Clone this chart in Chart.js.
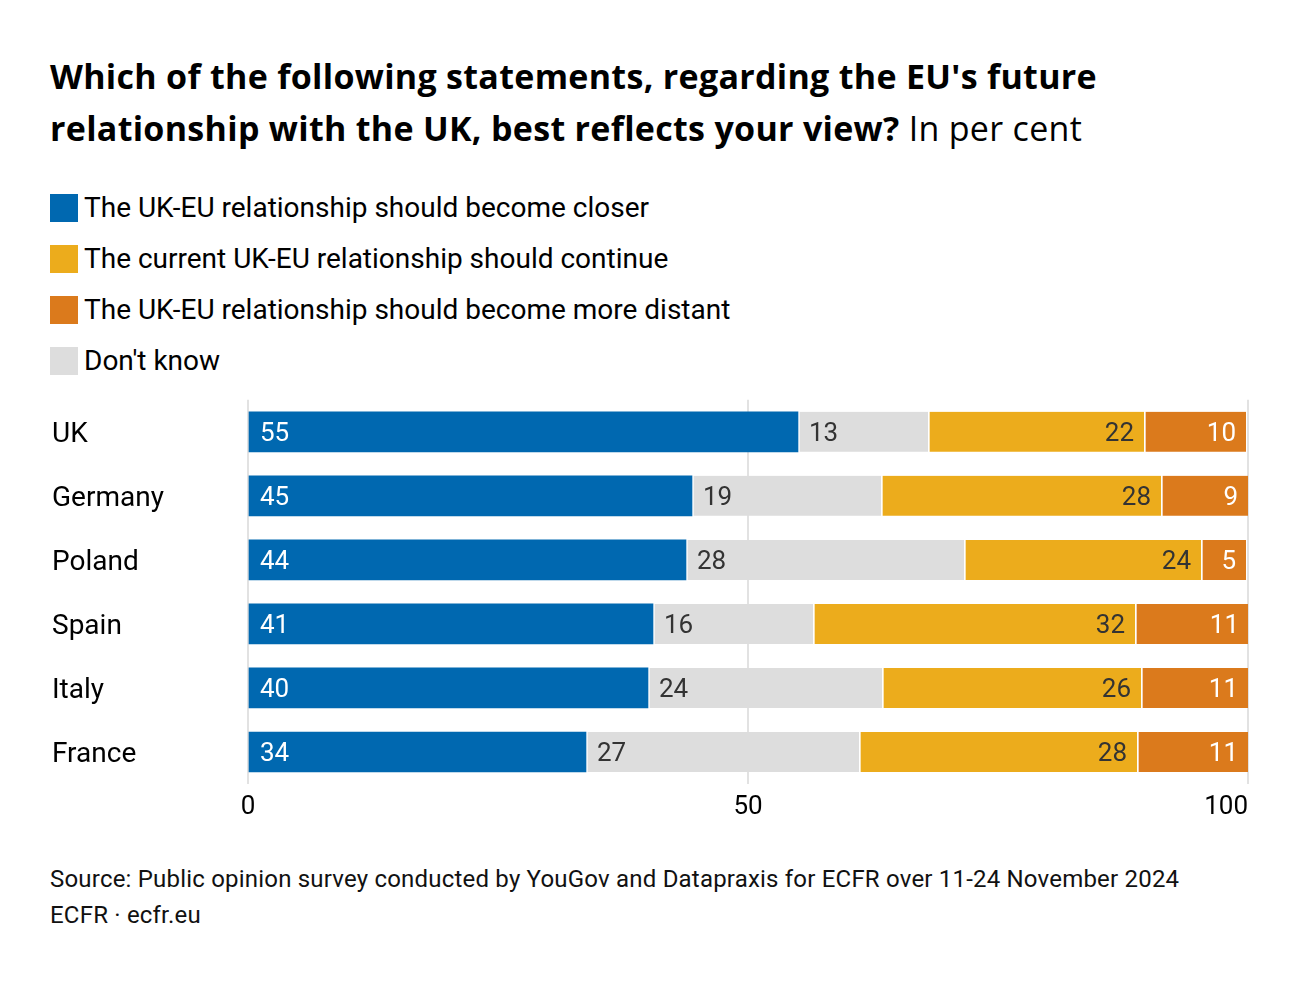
<!DOCTYPE html>
<html>
<head>
<meta charset="utf-8">
<script src="https://cdn.jsdelivr.net/npm/chart.js@4/dist/chart.umd.min.js"></script>
<style>
  html, body { margin: 0; padding: 0; background: #fff; }
  body { width: 1300px; height: 982px; position: relative; font-family: Roboto, "Noto Sans", sans-serif; color: #000; }
  #title { position: absolute; left: 50px; top: 50px; font-family: "Open Sans", Roboto, sans-serif; font-size: 34px; line-height: 52px; font-weight: 700; letter-spacing: 0.3px; }
  #title span { font-weight: 400; }
  #legend { position: absolute; left: 50px; top: 186px; }
  .item { height: 51px; display: flex; align-items: flex-start; font-size: 28px; }
  .sw { width: 28px; height: 28px; margin-right: 6px; margin-top: 8px; }
  .item .txt { line-height: 44px; }
  #wrap { position: absolute; left: 0; top: 380px; width: 1300px; height: 450px; }
  #notes { position: absolute; left: 50px; top: 861px; font-size: 24px; line-height: 36px; letter-spacing: 0.2px; color: #111; }
</style>
</head>
<body>
<div id="title">Which of the following statements, regarding the EU's future<br>relationship with the UK, best reflects your view? <span>In per cent</span></div>
<div id="legend"></div>
<div id="wrap"><canvas id="chart"></canvas></div>
<div id="notes">Source: Public opinion survey conducted by YouGov and Datapraxis for ECFR over 11-24 November 2024<br>ECFR · ecfr.eu</div>
<script>
const countries = ['UK', 'Germany', 'Poland', 'Spain', 'Italy', 'France'];

// bar widths; printed labels kept separately
const closer   = [55.0, 44.4, 43.8, 40.5, 40.0, 33.8];
const dontKnow = [13.0, 18.9, 27.8, 16.0, 23.4, 27.3];
const current  = [21.6, 28.0, 23.7, 32.2, 25.9, 27.8];
const distant  = [10.2, 8.7, 4.5, 11.4, 10.7, 11.1];

const closerLabels   = [55, 45, 44, 41, 40, 34];
const dontKnowLabels = [13, 19, 28, 16, 24, 27];
const currentLabels  = [22, 28, 24, 32, 26, 28];
const distantLabels  = [10, 9, 5, 11, 11, 11];

const xTicks = [0, 50, 100];

const series = [
    { name: 'The UK-EU relationship should become closer', data: closer, labels: closerLabels, color: '#0068b0', text: '#ffffff', side: 'left' },
    { name: "Don't know", data: dontKnow, labels: dontKnowLabels, color: '#dddddd', text: '#333333', side: 'left' },
    { name: 'The current UK-EU relationship should continue', data: current, labels: currentLabels, color: '#ecac1c', text: '#333333', side: 'right' },
    { name: 'The UK-EU relationship should become more distant', data: distant, labels: distantLabels, color: '#db7a1c', text: '#ffffff', side: 'right' }
];
const legendOrder = [0, 2, 3, 1];

const legend = document.getElementById('legend');
legendOrder.forEach(i => {
    const s = series[i];
    const div = document.createElement('div');
    div.className = 'item';
    div.innerHTML = `<div class="sw" style="background:${s.color}"></div><div class="txt">${s.name}</div>`;
    legend.appendChild(div);
});

// value labels inside the segments
const barLabels = {
    id: 'barLabels',
    afterDatasetsDraw(chart) {
        const ctx = chart.ctx;
        ctx.save();
        ctx.font = '26px Roboto, "Noto Sans", sans-serif';
        ctx.textBaseline = 'middle';
        chart.data.datasets.forEach((ds, di) => {
            const meta = chart.getDatasetMeta(di);
            const s = series[di];
            meta.data.forEach((bar, i) => {
                const left = Math.min(bar.x, bar.base);
                const right = Math.max(bar.x, bar.base);
                ctx.fillStyle = s.text;
                if (s.side === 'left') {
                    ctx.textAlign = 'left';
                    ctx.fillText(String(s.labels[i]), left + 11, bar.y + 3);
                } else {
                    ctx.textAlign = 'right';
                    ctx.fillText(String(s.labels[i]), right - 10, bar.y + 3);
                }
            });
        });
        ctx.restore();
    }
};

new Chart(document.getElementById('chart'), {
    type: 'bar',
    data: {
        labels: countries,
        datasets: series.map((s, i) => ({
            label: s.name,
            data: s.data,
            backgroundColor: s.color,
            borderColor: '#ffffff',
            borderWidth: i === 0 ? 0 : { left: 2, right: 0, top: 0, bottom: 0 },
            borderSkipped: false,
            barThickness: 40
        }))
    },
    options: {
        indexAxis: 'y',
        responsive: true,
        maintainAspectRatio: false,
        animation: false,
        layout: { padding: { left: 52, right: 52, top: 10, bottom: 0 } },
        plugins: {
            legend: { display: false },
            tooltip: { enabled: false }
        },
        scales: {
            x: {
                stacked: true,
                min: 0,
                max: 100,
                afterBuildTicks: (scale) => { scale.ticks = xTicks.map(v => ({ value: v })); },
                afterFit: (scale) => { scale.height = 46; },
                border: { display: false },
                grid: { color: '#e2e2e2', lineWidth: 2, drawTicks: false },
                ticks: {
                    color: '#000',
                    padding: 8,
                    font: { family: 'Roboto', size: 26 },
                    maxRotation: 0,
                    // keep the last label inside the plot, right-aligned
                    callback: (v) => v === 100 ? '100\u2007\u2007\u2007' : String(v)
                }
            },
            y: {
                stacked: true,
                afterFit: (scale) => { scale.width = 196; },
                border: { display: false },
                grid: { display: false },
                ticks: {
                    crossAlign: 'far',
                    labelOffset: 3,
                    color: '#000',
                    font: { family: 'Roboto', size: 28 }
                }
            }
        }
    },
    plugins: [barLabels]
});
</script>
</body>
</html>
